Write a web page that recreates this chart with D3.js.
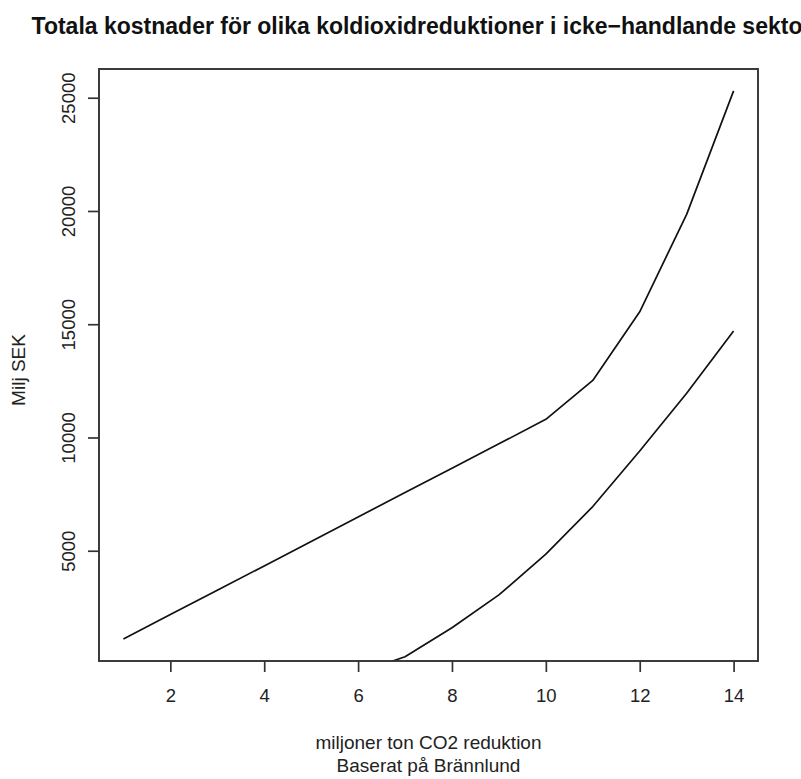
<!DOCTYPE html>
<html lang="sv">
<head>
    <meta charset="UTF-8">
    <title>Totala kostnader för olika koldioxidreduktioner</title>
    <script src="https://d3js.org/d3.v7.min.js"></script>
    <style>
        body {
            margin: 0;
            background-color: #ffffff;
            font-family: "Liberation Sans", Arial, sans-serif;
        }
        .axis text {
            font-size: 18.5px;
            fill: #222;
        }
        .axis path, .axis line {
            stroke: #333;
            stroke-width: 1.7;
        }
    </style>
</head>
<body>
    <div id="chart"></div>
    <script>
        // reduction in million tonnes CO2
        const xUpper = [1, 2, 3, 4, 5, 6, 7, 8, 9, 10, 11, 12, 13, 14];
        const costUpper = [1100, 2180, 3260, 4330, 5410, 6490, 7570, 8640, 9720, 10800, 12520, 15550, 19850, 25300];

        const xLower = [6, 7, 8, 9, 10, 11, 12, 13, 14];
        const costLower = [-400, 320, 1600, 3050, 4850, 6950, 9400, 11950, 14700];

        const xTicks = [2, 4, 6, 8, 10, 12, 14];
        const yTicks = [5000, 10000, 15000, 20000, 25000];

        const W = 801, H = 779;
        const plot = { left: 99, right: 758, top: 69, bottom: 661 };

        const svg = d3.select("#chart")
            .append("svg")
            .attr("width", W)
            .attr("height", H);

        // R style: pad the data range by 4% on each side
        function padded(ext) {
            const d = (ext[1] - ext[0]) * 0.04;
            return [ext[0] - d, ext[1] + d];
        }

        const x = d3.scaleLinear()
            .domain(padded(d3.extent(xUpper)))
            .range([plot.left, plot.right]);

        const y = d3.scaleLinear()
            .domain(padded(d3.extent(costUpper)))
            .range([plot.bottom, plot.top]);

        svg.append("clipPath")
            .attr("id", "clip")
            .append("rect")
            .attr("x", plot.left)
            .attr("y", plot.top)
            .attr("width", plot.right - plot.left)
            .attr("height", plot.bottom - plot.top);

        const line = d3.line()
            .x(d => x(d[0]))
            .y(d => y(d[1]));

        const series = [
            d3.zip(xUpper, costUpper),
            d3.zip(xLower, costLower)
        ];

        svg.append("g")
            .attr("clip-path", "url(#clip)")
            .selectAll("path")
            .data(series)
            .join("path")
            .attr("d", line)
            .attr("fill", "none")
            .attr("stroke", "#111")
            .attr("stroke-width", 1.7)
            .attr("stroke-linejoin", "round");

        // x axis
        const xAxis = svg.append("g")
            .attr("class", "axis")
            .attr("transform", `translate(0,${plot.bottom})`)
            .call(d3.axisBottom(x).tickValues(xTicks).tickSize(11).tickPadding(17).tickFormat(d3.format("d")));
        xAxis.select(".domain").remove();

        // y axis, labels turned like R's las = 0
        const yAxis = svg.append("g")
            .attr("class", "axis")
            .attr("transform", `translate(${plot.left},0)`)
            .call(d3.axisLeft(y).tickValues(yTicks).tickSize(11).tickFormat(d3.format("d")));
        yAxis.select(".domain").remove();
        yAxis.selectAll(".tick text")
            .attr("x", null)
            .attr("dy", null)
            .attr("text-anchor", "middle")
            .attr("transform", "translate(-24,0) rotate(-90)");

        // plot frame
        svg.append("rect")
            .attr("x", plot.left)
            .attr("y", plot.top)
            .attr("width", plot.right - plot.left)
            .attr("height", plot.bottom - plot.top)
            .attr("fill", "none")
            .attr("stroke", "#333")
            .attr("stroke-width", 1.9);

        const cx = (plot.left + plot.right) / 2;

        // the title runs past the right edge, as in the original
        svg.append("text")
            .attr("x", cx)
            .attr("y", 34)
            .attr("text-anchor", "middle")
            .style("font-size", "23px")
            .style("font-weight", "bold")
            .style("fill", "#111")
            .text("Totala kostnader för olika koldioxidreduktioner i icke\u2212handlande sektorn");

        svg.append("text")
            .attr("x", cx)
            .attr("y", 749)
            .attr("text-anchor", "middle")
            .style("font-size", "19px")
            .style("fill", "#222")
            .text("miljoner ton CO2 reduktion");

        svg.append("text")
            .attr("x", cx)
            .attr("y", 772)
            .attr("text-anchor", "middle")
            .style("font-size", "19px")
            .style("fill", "#222")
            .text("Baserat på Brännlund");

        svg.append("text")
            .attr("transform", `translate(25,370) rotate(-90)`)
            .attr("text-anchor", "middle")
            .style("font-size", "19px")
            .style("fill", "#222")
            .text("Milj SEK");
    </script>
</body>
</html>
